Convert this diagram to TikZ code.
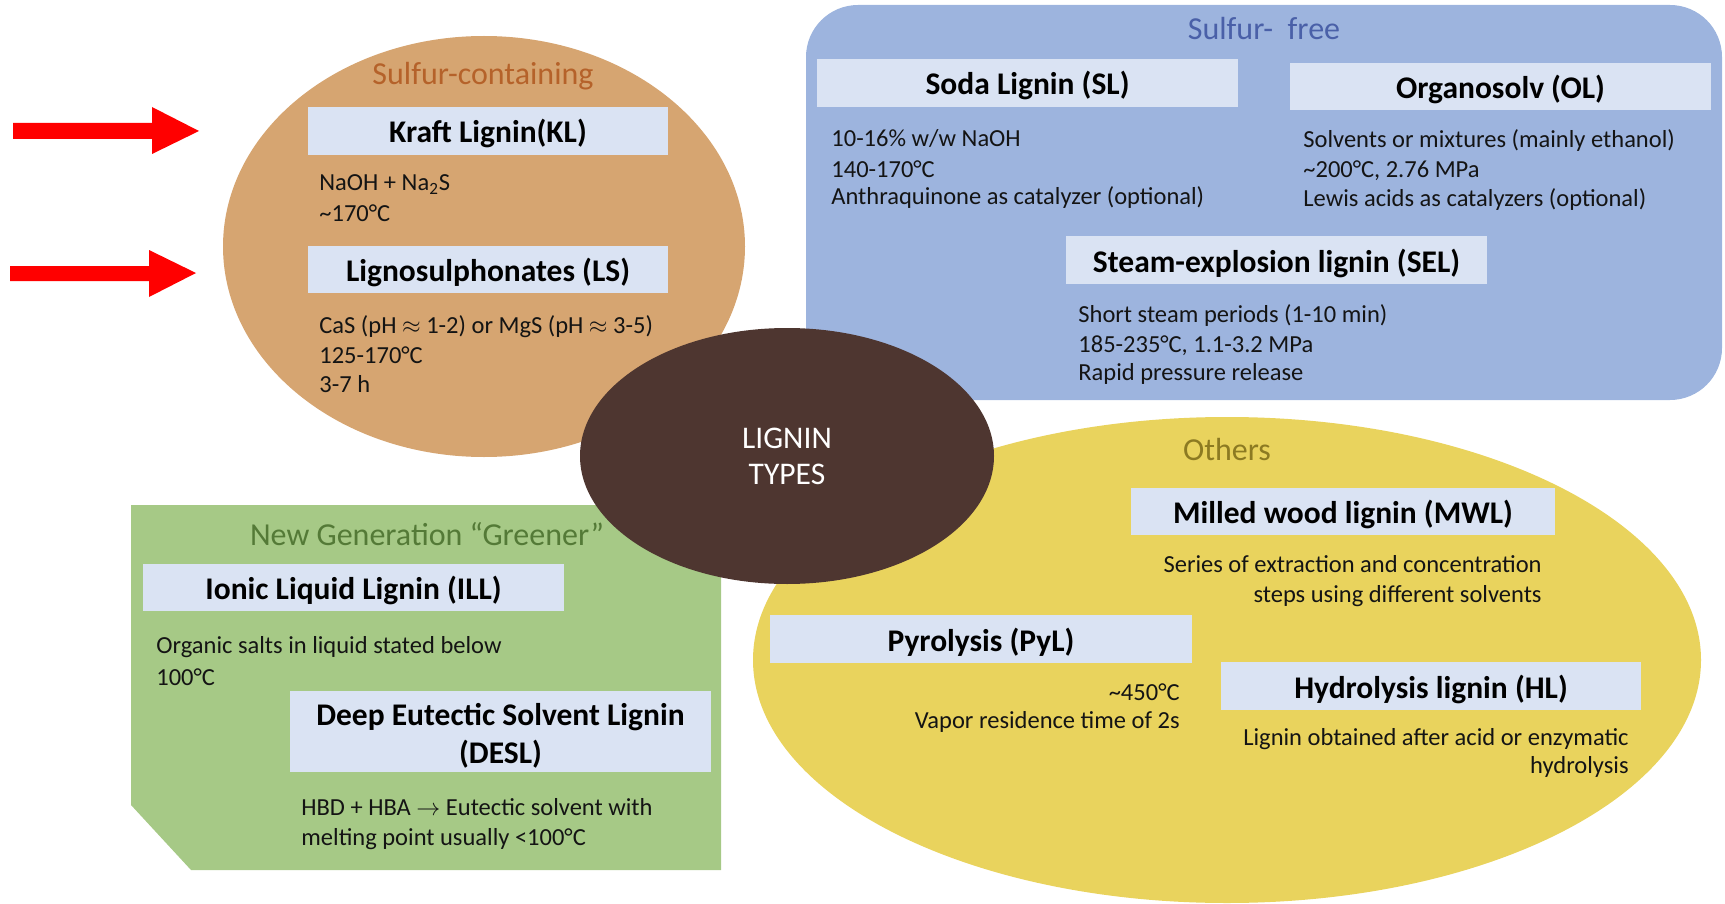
\documentclass[tikz,border=0pt]{standalone}
\usepackage{fontspec}
\setmainfont{Carlito}
\usetikzlibrary{shapes.geometric}
\definecolor{orangefill}{RGB}{214,165,113}
\definecolor{bluefill}{RGB}{157,180,222}
\definecolor{greenfill}{RGB}{166,201,134}
\definecolor{yellowfill}{RGB}{233,211,93}
\definecolor{brownfill}{RGB}{78,54,48}
\definecolor{boxfill}{RGB}{218,227,243}
\definecolor{torange}{RGB}{181,98,42}
\definecolor{tblue}{RGB}{74,96,168}
\definecolor{tgreen}{RGB}{84,122,55}
\definecolor{tyellow}{RGB}{140,122,34}
\definecolor{textdark}{RGB}{20,20,20}
\begin{document}
\begin{tikzpicture}[x=0.5pt,y=-0.5pt,
  hdrbase/.style={fill=boxfill, inner sep=0, text=black, font=\fontsize{15.75}{19}\selectfont\bfseries},
  hdr/.style={hdrbase, text height=1.2em, text depth=0em, minimum height=24pt, minimum width=210.5pt},
  body/.style={inner sep=0, anchor=base west, text=textdark, font=\fontsize{12.25}{14.5}\selectfont},
  bodyr/.style={body, anchor=base east},
  title/.style={inner sep=0, anchor=base, font=\fontsize{16}{19}\selectfont},
  bigell/.style={ellipse, inner sep=0}]
\useasboundingbox (0,0) rectangle (1725,904);
% big shapes
\node[bigell, fill=orangefill, minimum width=261pt, minimum height=210.5pt] (orange) at (484,246.5) {};
\fill[bluefill, rounded corners=26pt] (806,5) rectangle (1722,400);
\fill[greenfill] (131,505) -- (721,505) -- (721,870) -- (191,870) -- (131,805) -- cycle;
\node[bigell, fill=yellowfill, minimum width=474pt, minimum height=243pt] (yellow) at (1227,660) {};
\node[bigell, fill=brownfill, minimum width=207pt, minimum height=128pt, align=center, text=white,
      font=\fontsize{15.75}{18}\selectfont] (center) at (787,456) {LIGNIN\\TYPES};
% red arrows
\fill[red] (13,123) -- (152,123) -- (152,107) -- (199,131) -- (152,154) -- (152,139) -- (13,139) -- cycle;
\fill[red] (10,266) -- (149,266) -- (149,250) -- (196,273) -- (149,297) -- (149,281) -- (10,281) -- cycle;
% titles
\node[title, text=torange] (t1) at (483,85) {Sulfur-containing};
\node[title, text=tblue] (t2) at (1264,40) {Sulfur-\ \ free};
\node[title, text=tgreen] (t3) at (427,545) {New Generation “Greener”};
\node[title, text=tyellow] (t4) at (1227,460) {Others};
% sulfur-containing
\node[hdr, minimum width=180pt] (kl) at (488,131) {Kraft Lignin(KL)};
\node[body] (kl1) at (319,191) {NaOH + Na\textsubscript{2}S};
\node[body] (kl2) at (319,221) {\textasciitilde170°C};
\node[hdr, minimum width=180pt, minimum height=23.5pt] (ls) at (488,269.5) {Lignosulphonates (LS)};
\node[body] (ls1) at (319,333) {CaS (pH $\approx$ 1-2) or MgS (pH $\approx$ 3-5)};
\node[body] (ls2) at (319,363) {125-170°C};
\node[body] (ls3) at (319,392) {3-7 h};
% sulfur-free
\node[hdr] (sl) at (1027.5,83) {Soda Lignin (SL)};
\node[body] (sl1) at (831,147) {10-16\% w/w NaOH};
\node[body] (sl2) at (831,177) {140-170°C};
\node[body] (sl3) at (831,205) {Anthraquinone as catalyzer (optional)};
\node[hdr, minimum height=23.5pt] (ol) at (1500.5,86.5) {Organosolv (OL)};
\node[body] (ol1) at (1303,148) {Solvents or mixtures (mainly ethanol)};
\node[body] (ol2) at (1303,177) {\textasciitilde200°C, 2.76 MPa};
\node[body] (ol3) at (1303,206) {Lewis acids as catalyzers (optional)};
\node[hdr] (sel) at (1276.5,260) {Steam-explosion lignin (SEL)};
\node[body] (sel1) at (1078,322) {Short steam periods (1-10 min)};
\node[body] (sel2) at (1078,352) {185-235°C, 1.1-3.2 MPa};
\node[body] (sel3) at (1078,380) {Rapid pressure release};
% greener
\node[hdr, minimum height=23.5pt] (ill) at (353.5,587.5) {Ionic Liquid Lignin (ILL)};
\node[body] (ill1) at (156,653) {Organic salts in liquid stated below};
\node[body] (ill2) at (156,685) {100°C};
\node[hdrbase, align=center, minimum width=210.5pt, minimum height=40.5pt] (desl) at (500.5,731.5)
  {\rule{0pt}{1.0em}Deep Eutectic Solvent Lignin\\(DESL)};
\node[body] (desl1) at (301,815) {HBD + HBA $\rightarrow$ Eutectic solvent with};
\node[body] (desl2) at (301,845) {melting point usually <100°C};
% others
\node[hdr, minimum width=212pt, minimum height=23.5pt] (mwl) at (1343,511.5) {Milled wood lignin (MWL)};
\node[bodyr] (mwl1) at (1542,572) {Series of extraction and concentration};
\node[bodyr] (mwl2) at (1542,602) {steps using different solvents};
\node[hdr, minimum width=211pt] (pyl) at (981,639) {Pyrolysis (PyL)};
\node[bodyr] (pyl1) at (1180,700) {\textasciitilde450°C};
\node[bodyr] (pyl2) at (1180,728) {Vapor residence time of 2s};
\node[hdr, minimum width=210pt] (hl) at (1431,686) {Hydrolysis lignin (HL)};
\node[bodyr] (hl1) at (1629,745) {Lignin obtained after acid or enzymatic};
\node[bodyr] (hl2) at (1629,773) {hydrolysis};
\end{tikzpicture}
\end{document}
